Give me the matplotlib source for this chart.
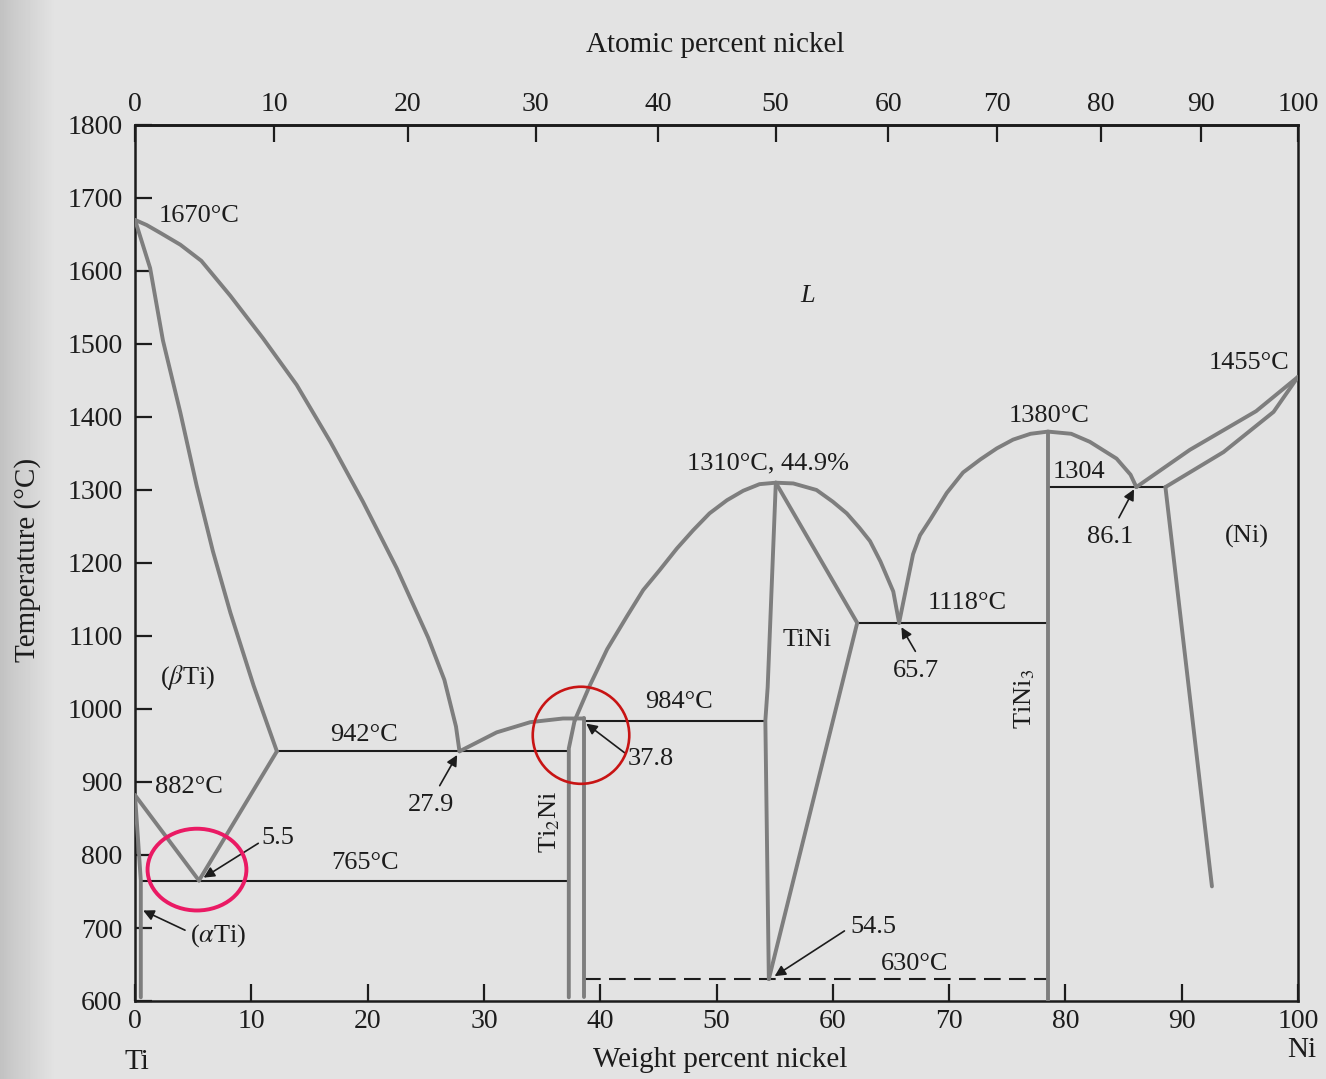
import numpy as np
import matplotlib
matplotlib.use('Agg')
import matplotlib.pyplot as plt
from matplotlib.patches import Ellipse

plt.rcParams['font.family'] = ['Liberation Serif', 'DejaVu Serif']
plt.rcParams['mathtext.fontset'] = 'stix'

# Ti-Ni binary diagram, composition in wt% Ni, temperature in deg C
liq_beta_w = [0, 1.0, 2.2, 3.9, 5.7, 8.2, 11.0, 13.9, 16.8, 19.6, 22.5, 25.2, 26.6, 27.6, 27.9]
liq_beta_t = [1670, 1663, 1652, 1636, 1614, 1566, 1508, 1444, 1366, 1284, 1193, 1098, 1040, 976, 942]
sol_beta_w = [0, 1.3, 2.4, 3.9, 5.3, 6.7, 8.2, 10.2, 12.2]
sol_beta_t = [1670, 1604, 1505, 1406, 1306, 1216, 1132, 1032, 942]
solvus_beta_w = [12.2, 5.5]
solvus_beta_t = [942, 765]
transus_w = [0, 5.5]
transus_t = [882, 765]
alpha_w = [0, 0.5, 0.5]
alpha_t = [882, 765, 605]

liq_ti2ni_w = [27.9, 31.1, 34.0, 36.8, 38.6]
liq_ti2ni_t = [942, 968, 982, 987, 987]
ti2ni_left_w = [37.8, 37.3, 37.3]
ti2ni_left_t = [984, 946, 605]
ti2ni_right_w = [38.6, 38.6]
ti2ni_right_t = [987, 605]

liq_tini_left_w = [37.8, 39.1, 40.6, 42.3, 43.7, 45.1, 46.6, 48.0, 49.4, 50.9, 52.3, 53.7, 55.1]
liq_tini_left_t = [984, 1032, 1082, 1127, 1163, 1190, 1220, 1245, 1268, 1286, 1299, 1308, 1310]
liq_tini_right_w = [55.1, 56.6, 58.6, 60.0, 61.2, 62.3, 63.2, 64.1, 65.2, 65.7]
liq_tini_right_t = [1310, 1309, 1300, 1284, 1268, 1248, 1230, 1202, 1161, 1118]
tini_left_w = [55.1, 54.4, 54.2, 54.5]
tini_left_t = [1310, 1030, 984, 630]
tini_right_w = [55.1, 62.1, 54.5]
tini_right_t = [1310, 1118, 630]

liq_tini3_left_w = [65.7, 66.35, 66.9, 67.5, 68.4, 69.8, 71.2, 72.7, 74.1, 75.5, 77.0, 78.5]
liq_tini3_left_t = [1118, 1169, 1212, 1238, 1260, 1296, 1324, 1342, 1357, 1369, 1377, 1380]
liq_tini3_right_w = [78.5, 80.5, 82.1, 84.4, 85.6, 86.1]
liq_tini3_right_t = [1380, 1377, 1366, 1343, 1321, 1304]
tini3_w = [78.5, 78.5]
tini3_t = [1380, 600]

liq_ni_w = [86.1, 90.7, 96.4, 100]
liq_ni_t = [1304, 1355, 1408, 1455]
sol_ni_w = [88.6, 93.6, 97.9, 100]
sol_ni_t = [1304, 1352, 1407, 1455]
solvus_ni_w = [88.6, 92.6]
solvus_ni_t = [1304, 757]

# horizontal reaction lines
iso_t = [942, 765, 984, 1118, 1304]
iso_from = [12.2, 0.5, 38.6, 62.1, 78.5]
iso_to = [37.3, 37.3, 54.2, 78.5, 88.6]
eutectoid_t = 630
eutectoid_from, eutectoid_to = 38.6, 78.5

x_ticks = list(range(0, 101, 10))
y_ticks = list(range(600, 1801, 100))
at_ticks = list(range(0, 101, 10))

M_TI, M_NI = 47.867, 58.693


def wt_to_at(w):
    w = np.asarray(w, dtype=float)
    n = w / M_NI
    return 100 * n / (n + (100 - w) / M_TI)


def at_to_wt(a):
    a = np.asarray(a, dtype=float)
    m = a * M_NI
    return 100 * m / (m + (100 - a) * M_TI)


PAPER = '#e3e3e3'
GREY = '#7e7e7e'
INK = '#1c1c1c'

fig = plt.figure(figsize=(13.26, 10.79), dpi=100, facecolor=PAPER)

# slightly darker page edge on the left
bg = fig.add_axes([0, 0, 1, 1], zorder=-5)
shade = np.interp(np.arange(1326), [0, 15, 55, 1326], [0.76, 0.80, 0.89, 0.89])
bg.imshow(shade[None, :], cmap='gray', vmin=0, vmax=1, aspect='auto',
          extent=[0, 1, 0, 1])
bg.axis('off')

ax = fig.add_axes([135 / 1326, 78 / 1079, 1163 / 1326, 876 / 1079])
ax.set_facecolor('none')

curves = [
    (liq_beta_w, liq_beta_t), (sol_beta_w, sol_beta_t),
    (solvus_beta_w, solvus_beta_t), (transus_w, transus_t), (alpha_w, alpha_t),
    (liq_ti2ni_w, liq_ti2ni_t), (ti2ni_left_w, ti2ni_left_t),
    (ti2ni_right_w, ti2ni_right_t),
    (liq_tini_left_w, liq_tini_left_t), (liq_tini_right_w, liq_tini_right_t),
    (tini_left_w, tini_left_t), (tini_right_w, tini_right_t),
    (liq_tini3_left_w, liq_tini3_left_t), (liq_tini3_right_w, liq_tini3_right_t),
    (tini3_w, tini3_t),
    (liq_ni_w, liq_ni_t), (sol_ni_w, sol_ni_t), (solvus_ni_w, solvus_ni_t),
]
for w, t in curves:
    ax.plot(w, t, color=GREY, lw=2.8, solid_joinstyle='round',
            solid_capstyle='round', zorder=3)

ax.hlines(iso_t, iso_from, iso_to, color=INK, lw=1.5, zorder=2)
ax.hlines(eutectoid_t, eutectoid_from, eutectoid_to, color=INK, lw=1.5,
          linestyles=(0, (8, 4)), zorder=2)

ax.set_xlim(0, 100)
ax.set_ylim(600, 1800)
ax.set_xticks(x_ticks)
ax.set_yticks(y_ticks)
ax.tick_params(axis='both', direction='in', length=12, width=1.6,
               labelsize=20, top=False, right=False, colors=INK)
ax.tick_params(axis='y', pad=9)
ax.tick_params(axis='x', pad=6)
for s in ax.spines.values():
    s.set_linewidth(1.8)
    s.set_color(INK)

top = ax.secondary_xaxis('top', functions=(wt_to_at, at_to_wt))
top.set_xticks(at_ticks)
top.tick_params(direction='in', length=12, width=1.6, labelsize=20, pad=6,
                colors=INK)
top.spines['top'].set_linewidth(1.8)

tkw = dict(fontsize=19, color=INK, va='center')
ax.text(2.0, 1676, '1670°C', ha='left', **tkw)
ax.text(57.2, 1566, 'L', ha='left', style='italic', **tkw)
ax.text(99.3, 1474, '1455°C', ha='right', **tkw)
ax.text(75.1, 1401, '1380°C', ha='left', **tkw)
ax.text(47.5, 1337, '1310°C, 44.9%', ha='left', **tkw)
ax.text(78.9, 1325, '1304', ha='left', **tkw)
ax.text(81.9, 1236, '86.1', ha='left', **tkw)
ax.text(93.7, 1236, '(Ni)', ha='left', **tkw)
ax.text(68.2, 1145, '1118°C', ha='left', **tkw)
ax.text(65.2, 1052, '65.7', ha='left', **tkw)
ax.text(55.7, 1095, 'TiNi', ha='left', **tkw)
ax.text(76.5, 1014, r'TiNi$_3$', ha='center', rotation=90, **tkw)
ax.text(43.9, 1010, '984°C', ha='left', **tkw)
ax.text(42.4, 931, '37.8', ha='left', **tkw)
ax.text(16.8, 964, '942°C', ha='left', **tkw)
ax.text(23.5, 868, '27.9', ha='left', **tkw)
ax.text(35.7, 845, r'Ti$_2$Ni', ha='center', rotation=90, **tkw)
ax.text(2.15, 1043, r'($\beta$Ti)', ha='left', **tkw)
ax.text(1.7, 893, '882°C', ha='left', **tkw)
ax.text(10.9, 823, '5.5', ha='left', **tkw)
ax.text(16.9, 789, '765°C', ha='left', **tkw)
ax.text(4.7, 690, r'($\alpha$Ti)', ha='left', **tkw)
ax.text(61.5, 702, '54.5', ha='left', **tkw)
ax.text(64.1, 650, '630°C', ha='left', **tkw)

arrows = [
    ((84.6, 1262), (85.9, 1301)),
    ((67.1, 1079), (65.9, 1112)),
    ((42.1, 940), (38.8, 980)),
    ((26.2, 895), (27.7, 937)),
    ((10.6, 816), (5.9, 769)),
    ((4.3, 697), (0.7, 724)),
    ((61.0, 696), (55.0, 634)),
]
for tail, head in arrows:
    ax.annotate('', xy=head, xytext=tail,
                arrowprops=dict(arrowstyle='-|>', color=INK, lw=1.2,
                                mutation_scale=16, shrinkA=0, shrinkB=0))

ax.text(0.4987, 1.0913, 'Atomic percent nickel', transform=ax.transAxes,
        ha='center', va='center', fontsize=21, color=INK)
ax.text(0.503, -0.0674, 'Weight percent nickel', transform=ax.transAxes,
        ha='center', va='center', fontsize=21, color=INK)
ax.text(-0.092, 0.503, 'Temperature (°C)', transform=ax.transAxes,
        ha='center', va='center', rotation=90, fontsize=21, color=INK)
ax.text(0.0017, -0.0696, 'Ti', transform=ax.transAxes,
        ha='center', va='center', fontsize=21, color=INK)
ax.text(1.0034, -0.056, 'Ni', transform=ax.transAxes,
        ha='center', va='center', fontsize=21, color=INK)

# highlighted invariant points
ax.add_patch(Ellipse((5.33, 780), 8.5, 112, fill=False, ec='#ea1a64',
                     lw=2.8, zorder=5, clip_on=False))
ax.add_patch(Ellipse((38.35, 964), 8.3, 133, fill=False, ec='#c81414',
                     lw=1.9, zorder=5, clip_on=False))

fig.savefig('out.png', dpi=100, facecolor=PAPER)
